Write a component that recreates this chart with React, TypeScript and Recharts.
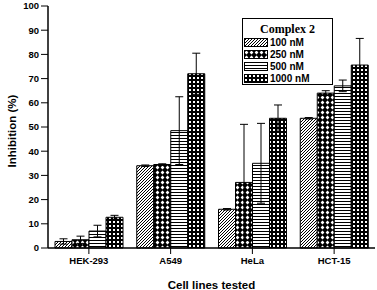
import React from "react";
import {
  BarChart,
  Bar,
  XAxis,
  YAxis,
  ErrorBar,
} from "recharts";

const categories = ["HEK-293", "A549", "HeLa", "HCT-15"];
const seriesNames = ["100 nM", "250 nM", "500 nM", "1000 nM"];

const v100 = [2.7, 34.0, 16.0, 53.6];
const v250 = [3.4, 34.5, 27.1, 64.0];
const v500 = [7.0, 48.5, 35.0, 67.0];
const v1000 = [12.7, 72.0, 53.6, 75.6];

const e100 = [1.1, 0.3, 0.3, 0.3];
const e250 = [1.5, 0.3, 24.0, 1.0];
const e500 = [2.4, 14.0, 16.5, 2.4];
const e1000 = [0.8, 8.5, 5.5, 11.0];

const yTicks = [0, 10, 20, 30, 40, 50, 60, 70, 80, 90, 100];

const data = categories.map((name, i) => ({
  name,
  v100: v100[i],
  v250: v250[i],
  v500: v500[i],
  v1000: v1000[i],
  e100: e100[i],
  e250: e250[i],
  e500: e500[i],
  e1000: e1000[i],
}));

const keys = ["v100", "v250", "v500", "v1000"];
const errKeys = ["e100", "e250", "e500", "e1000"];

const sans = "'Liberation Sans', Arial, sans-serif";

// hatch patterns, prefixed so the legend svg can have its own copy
const Patterns = ({ prefix }: { prefix: string }) => (
  <defs>
    <pattern id={`${prefix}p0`} patternUnits="userSpaceOnUse" width="3" height="3">
      <rect width="3" height="3" fill="#fff" />
      <path d="M-1,1 l2,-2 M0,3 l3,-3 M2,4 l2,-2" stroke="#000" strokeWidth="1" />
    </pattern>
    <pattern id={`${prefix}p1`} patternUnits="userSpaceOnUse" width="5" height="5">
      <rect width="5" height="5" fill="#000" />
      <polygon points="2.5,0.6 4.4,2.5 2.5,4.4 0.6,2.5" fill="#fff" />
    </pattern>
    <pattern id={`${prefix}p2`} patternUnits="userSpaceOnUse" width="4" height="3">
      <rect width="4" height="3" fill="#fff" />
      <rect width="4" height="1" fill="#000" />
    </pattern>
    <pattern id={`${prefix}p3`} patternUnits="userSpaceOnUse" width="4" height="4">
      <rect width="4" height="4" fill="#000" />
      <rect x="1" y="1" width="2" height="2" fill="#fff" />
    </pattern>
  </defs>
);

const LegendBox = () => (
  <div
    style={{
      position: "absolute",
      left: 242,
      top: 18,
      width: 89,
      height: 65,
      border: "1px solid #000",
      background: "#fff",
    }}
  >
    <div
      style={{
        fontFamily: "'Liberation Serif', 'Times New Roman', serif",
        fontWeight: "bold",
        fontSize: 12,
        textAlign: "center",
        lineHeight: "14px",
        marginTop: 3,
      }}
    >
      Complex 2
    </div>
    <svg width={0} height={0} style={{ position: "absolute" }}>
      <Patterns prefix="lg" />
    </svg>
    {seriesNames.map((s, i) => (
      <div
        key={s}
        style={{ display: "flex", alignItems: "center", height: 12, marginLeft: 1 }}
      >
        <svg width={24} height={9}>
          <rect x={0.5} y={0.5} width={23} height={8} fill={`url(#lgp${i})`} stroke="#000" />
        </svg>
        <span
          style={{
            fontFamily: sans,
            fontWeight: "bold",
            fontSize: 10,
            marginLeft: 2,
          }}
        >
          {s}
        </span>
      </div>
    ))}
  </div>
);

export default function App() {
  return (
    <div style={{ position: "absolute", left: 0, top: 0, width: 377, height: 290, background: "#fff" }}>
      <BarChart
        width={377}
        height={290}
        data={data}
        margin={{ top: 6, right: 2, left: 8, bottom: 0 }}
        barCategoryGap={7}
        barGap={0}
      >
        <Patterns prefix="ch" />
        <XAxis
          dataKey="name"
          height={42}
          axisLine={{ stroke: "#000", strokeWidth: 1.5 }}
          tickLine={{ stroke: "#000", strokeWidth: 1 }}
          tickSize={6}
          tickMargin={3}
          tick={{ fill: "#000", fontSize: 9.5, fontWeight: "bold", fontFamily: sans }}
          label={{
            value: "Cell lines tested",
            position: "insideBottom",
            offset: 1,
            fill: "#000",
            fontSize: 11.5,
            fontWeight: "bold",
            fontFamily: sans,
          }}
        />
        <YAxis
          width={40}
          domain={[0, 100]}
          ticks={yTicks}
          interval={0}
          axisLine={{ stroke: "#000", strokeWidth: 1.5 }}
          tickLine={{ stroke: "#000", strokeWidth: 1 }}
          tickSize={7}
          tickMargin={2}
          tick={{ fill: "#000", fontSize: 9.5, fontWeight: "bold", fontFamily: sans }}
          label={{
            value: "Inhibition (%)",
            angle: -90,
            position: "insideLeft",
            offset: 4,
            dy: 4,
            style: { textAnchor: "middle" },
            fill: "#000",
            fontSize: 11.5,
            fontWeight: "bold",
            fontFamily: sans,
          }}
        />
        {keys.map((k, i) => (
          <Bar
            key={k}
            dataKey={k}
            name={seriesNames[i]}
            fill={`url(#chp${i})`}
            stroke="#000"
            strokeWidth={1}
            isAnimationActive={false}
          >
            <ErrorBar
              dataKey={errKeys[i]}
              width={4}
              stroke="#000"
              strokeWidth={1}
              direction="y"
            />
          </Bar>
        ))}
      </BarChart>
      <LegendBox />
    </div>
  );
}
